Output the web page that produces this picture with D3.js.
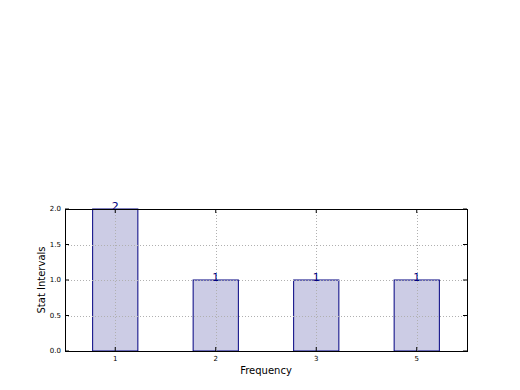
<!DOCTYPE html>
<html>
<head>
<meta charset="utf-8">
<script src="https://cdn.jsdelivr.net/npm/d3@7"></script>
<style>
  html, body { margin: 0; padding: 0; background: #fff; overflow: hidden; }
  svg { display: block; }
  text { font-family: "DejaVu Sans", sans-serif; }
</style>
</head>
<body>
<svg width="520" height="390"></svg>
<script>
const categories = ['1', '2', '3', '5']
const values = [2, 1, 1, 1]
const yTicks = [0, 0.5, 1.0, 1.5, 2.0]

const svg = d3.select('svg')
const margin = {top: 209, right: 53, bottom: 39, left: 65}
const innerWidth = 520 - margin.left - margin.right
const innerHeight = 390 - margin.top - margin.bottom

const g = svg.append('g')
  .attr('transform', `translate(${margin.left}, ${margin.top})`)

const x = d3.scaleLinear().domain([-0.5, categories.length - 0.5]).range([0, innerWidth])
const y = d3.scaleLinear().domain([0, 2]).range([innerHeight, 0])
const barW = x(0.45) - x(0)

// bars
g.selectAll('rect.bar').data(values).join('rect')
  .attr('class', 'bar')
  .attr('x', (_, i) => x(i) - barW / 2)
  .attr('y', d => y(d))
  .attr('width', barW)
  .attr('height', d => innerHeight - y(d))
  .attr('fill', '#ccccE5')
  .attr('stroke', '#000080')
  .attr('stroke-width', 1)

// grid drawn over the bars
g.selectAll('line.gx').data(categories).join('line')
  .attr('class', 'gx')
  .attr('x1', (_, i) => Math.round(x(i)) + 0.5).attr('x2', (_, i) => Math.round(x(i)) + 0.5)
  .attr('y1', 0).attr('y2', innerHeight)
  .attr('stroke', '#b0b0b0').attr('stroke-dasharray', '1,2')
g.selectAll('line.gy').data(yTicks.slice(1, -1)).join('line')
  .attr('class', 'gy')
  .attr('x1', 0).attr('x2', innerWidth)
  .attr('y1', d => Math.round(y(d)) + 0.5).attr('y2', d => Math.round(y(d)) + 0.5)
  .attr('stroke', '#b0b0b0').attr('stroke-dasharray', '1,2')

// value labels
g.selectAll('text.val').data(values).join('text')
  .attr('class', 'val')
  .attr('x', (_, i) => x(i))
  .attr('y', d => y(d) + 1)
  .attr('text-anchor', 'middle')
  .attr('font-size', 11)
  .attr('fill', '#000080')
  .text(d => d)

// tick marks pointing inward on all four sides
const tickLen = 4
g.selectAll('line.tl').data(yTicks).join('line').attr('class', 'tl')
  .attr('x1', 0).attr('x2', tickLen)
  .attr('y1', d => y(d)).attr('y2', d => y(d)).attr('stroke', '#000')
g.selectAll('line.tr').data(yTicks).join('line').attr('class', 'tr')
  .attr('x1', innerWidth - tickLen).attr('x2', innerWidth)
  .attr('y1', d => y(d)).attr('y2', d => y(d)).attr('stroke', '#000')
g.selectAll('line.tb').data(categories).join('line').attr('class', 'tb')
  .attr('x1', (_, i) => x(i)).attr('x2', (_, i) => x(i))
  .attr('y1', innerHeight - tickLen).attr('y2', innerHeight).attr('stroke', '#000')
g.selectAll('line.tt').data(categories).join('line').attr('class', 'tt')
  .attr('x1', (_, i) => x(i)).attr('x2', (_, i) => x(i))
  .attr('y1', 0).attr('y2', tickLen).attr('stroke', '#000')

// tick labels
g.selectAll('text.yl').data(yTicks).join('text').attr('class', 'yl')
  .attr('x', -4).attr('y', d => y(d)).attr('dy', '0.35em')
  .attr('text-anchor', 'end').attr('font-size', 7)
  .text(d => d3.format('.1f')(d))
g.selectAll('text.xl').data(categories).join('text').attr('class', 'xl')
  .attr('x', (_, i) => x(i)).attr('y', innerHeight + 10)
  .attr('text-anchor', 'middle').attr('font-size', 7)
  .text(d => d)

// frame
g.append('rect')
  .attr('x', 0.5).attr('y', 0.5)
  .attr('width', innerWidth).attr('height', innerHeight)
  .attr('fill', 'none').attr('stroke', '#000').attr('stroke-width', 1)

// axis labels
svg.append('text')
  .attr('x', margin.left + innerWidth / 2).attr('y', 374)
  .attr('text-anchor', 'middle').attr('font-size', 10)
  .text('Frequency')
svg.append('text')
  .attr('transform', `translate(45, ${margin.top + innerHeight / 2}) rotate(-90)`)
  .attr('text-anchor', 'middle').attr('font-size', 10)
  .text('Stat Intervals')
</script>
</body>
</html>
